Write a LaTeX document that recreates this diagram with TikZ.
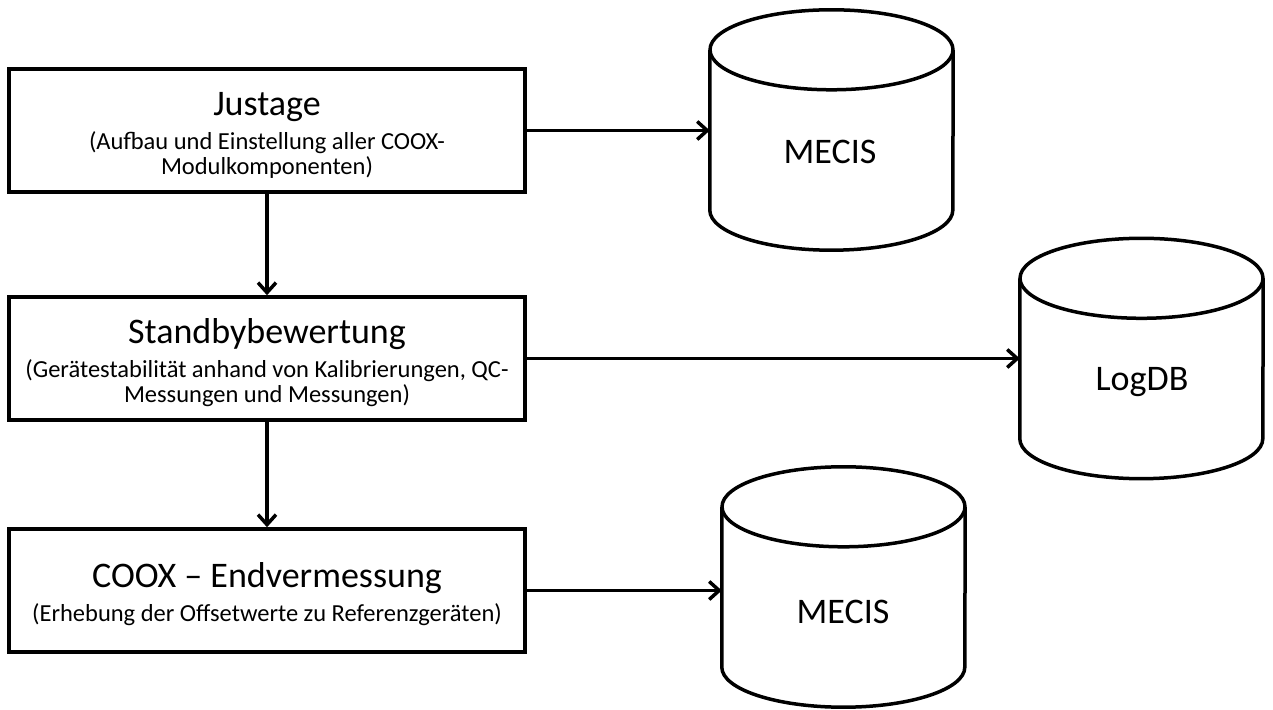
\documentclass[tikz,border=0pt]{standalone}
\usepackage{fontspec}
\setmainfont{Carlito}
\usetikzlibrary{arrows.meta,calc}

\tikzset{
  stage/.style={draw, line width=3.5pt, minimum width=516pt, minimum height=123pt,
    inner sep=0pt, align=center, font=\fontsize{24.5}{25}\selectfont},
  dbbody/.style={minimum width=243pt, minimum height=240pt, inner sep=0pt},
  dblabel/.style={font=\fontsize{36}{40}\selectfont, inner sep=0pt},
  outline/.style={line width=3.5pt, line join=round},
  flow/.style={line width=3.5pt, -{Straight Barb[length=10pt,width=18pt]}},
}
% step heading, with a fixed-height strut so every box sets its lines alike
\newcommand{\stagetitle}[1]{{\fontsize{36}{40}\selectfont\rule{0pt}{33pt}#1}}

\begin{document}
\begin{tikzpicture}[x=1pt, y=1pt]
\useasboundingbox (0,0) rectangle (1273,709);

% process steps
\node[stage] (s1) at (267,578.5) {\stagetitle{Justage}\\[9pt]
  (Aufbau und Einstellung aller COOX-\\Modulkomponenten)};
\node[stage] (s2) at (267,350.5) {\stagetitle{Standbybewertung}\\[9pt]
  (Gerätestabilität anhand von Kalibrierungen, QC-\\Messungen und Messungen)};
\node[stage] (s3) at (267,118.5) {\stagetitle{COOX -- Endvermessung}\\[9pt]
  (Erhebung der Offsetwerte zu Referenzgeräten)};

% databases
\node[dbbody] (m1) at (831.5,579) {};
\node[dbbody] (lg) at (1141.5,350.5) {};
\node[dbbody] (m2) at (843.5,122) {};

\foreach \c in {m1,lg,m2} {
  \draw[outline] ($(\c.north west)+(0,-40)$) -- ($(\c.south west)+(0,40)$)
    arc[start angle=180, end angle=360, x radius=121.5, y radius=40]
    -- ($(\c.north east)+(0,-40)$);
  \draw[outline] ($(\c.north)+(0,-40)$) ellipse[x radius=121.5, y radius=40];
}

\node[dblabel] (m1t) at (830,557) {MECIS};
\node[dblabel] (lgt) at (1142,327) {LogDB};
\node[dblabel] (m2t) at (843,97) {MECIS};

% connectors
\draw[flow] (s1.south) -- (s2.north);
\draw[flow] (s2.south) -- (s3.north);
\draw[flow] (s1.east) -- (s1.east -| m1.west);
\draw[flow] (s2.east) -- (s2.east -| lg.west);
\draw[flow] (s3.east) -- (s3.east -| m2.west);
\end{tikzpicture}
\end{document}
